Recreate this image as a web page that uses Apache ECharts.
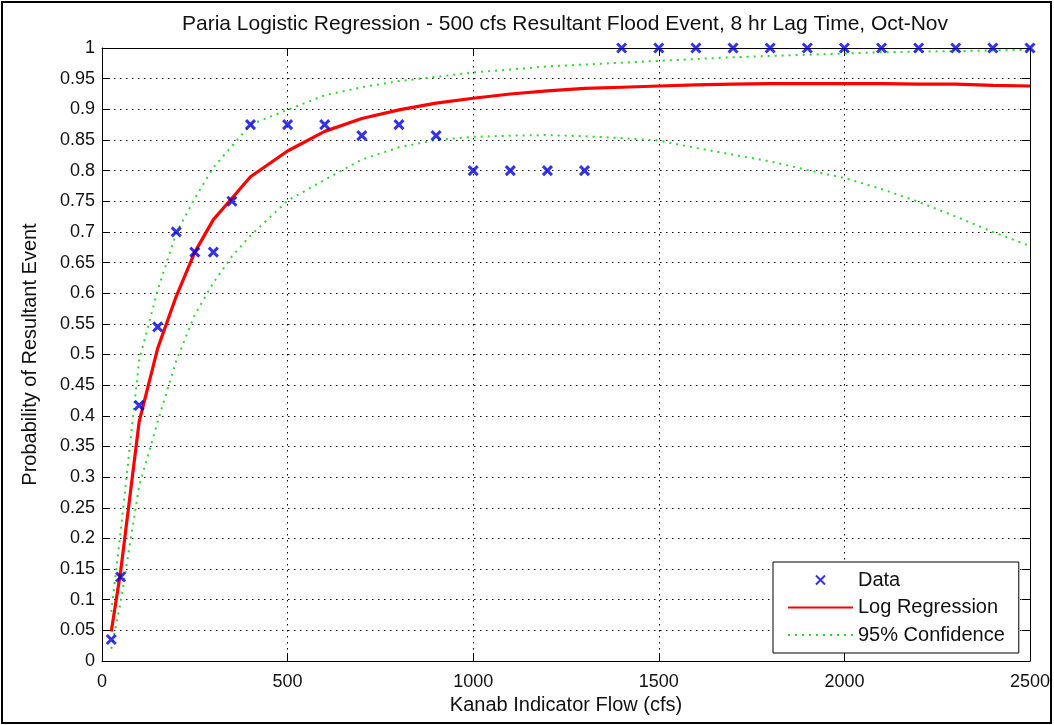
<!DOCTYPE html>
<html><head><meta charset="utf-8">
<script src="https://cdn.jsdelivr.net/npm/echarts@6/dist/echarts.min.js"></script>
<style>html,body{margin:0;padding:0;background:#fff}#c{width:1054px;height:725px}</style>
</head><body><div id="c"></div>
<script>
const titleText = 'Paria Logistic Regression - 500 cfs Resultant Flood Event, 8 hr Lag Time, Oct-Nov';
const xName = 'Kanab Indicator Flow (cfs)';
const yName = 'Probability of Resultant Event';
const xTicks = [0, 500, 1000, 1500, 2000, 2500];
const yTickStep = 0.05;

// Observed data
const dataX = [25, 50, 100, 150, 200, 250, 300, 350, 400, 500, 600, 700, 800, 900, 1000, 1100, 1200, 1300,
  1400, 1500, 1600, 1700, 1800, 1900, 2000, 2100, 2200, 2300, 2400, 2500];
const dataY = [0.035, 0.137, 0.417, 0.545, 0.70, 0.667, 0.667, 0.75, 0.875, 0.875, 0.875, 0.857, 0.875, 0.857,
  0.80, 0.80, 0.80, 0.80, 1, 1, 1, 1, 1, 1, 1, 1, 1, 1, 1, 1];

// Fitted curve and confidence bounds (evaluated at the data flows)
const curveX = [25, 50, 100, 150, 200, 250, 300, 350, 400, 500, 600, 700, 800, 900, 1000, 1100, 1200, 1300,
  1400, 1500, 1600, 1700, 1800, 1900, 2000, 2100, 2200, 2300, 2400, 2500];
const fitY = [0.048, 0.145, 0.39, 0.51, 0.595, 0.667, 0.72, 0.755, 0.79, 0.832, 0.864, 0.885, 0.899, 0.910,
  0.918, 0.925, 0.930, 0.934, 0.936, 0.938, 0.940, 0.941, 0.942, 0.942, 0.942, 0.942, 0.941, 0.941, 0.939, 0.938];
const upperY = [0.08, 0.21, 0.49, 0.605, 0.698, 0.755, 0.805, 0.84, 0.875, 0.899, 0.923, 0.936, 0.946, 0.953,
  0.960, 0.965, 0.970, 0.973, 0.976, 0.979, 0.982, 0.985, 0.987, 0.989, 0.991, 0.993, 0.994, 0.995, 0.996, 0.997];
const lowerY = [0.02, 0.095, 0.285, 0.39, 0.49, 0.565, 0.617, 0.66, 0.694, 0.751, 0.785, 0.818, 0.838, 0.85,
  0.855, 0.857, 0.858, 0.856, 0.853, 0.849, 0.837, 0.826, 0.815, 0.801, 0.788, 0.77, 0.749, 0.725, 0.70, 0.677];

const pairs = (xs, ys) => xs.map((x, i) => [x, ys[i]]);
const FONT = 'Liberation Sans, Arial, sans-serif';
const crossPath = 'path://M0,0L10,10M10,0L0,10';
const green = '#2fd62f';
const clear = 'rgba(0,0,0,0)';

const chart = echarts.init(document.getElementById('c'), null, {renderer: 'canvas'});

const baseX = {
  type: 'value', min: xTicks[0], max: xTicks[xTicks.length - 1], interval: xTicks[1] - xTicks[0],
  axisLine: {show: true, onZero: false, lineStyle: {color: '#000', width: 1}},
  axisTick: {show: true, inside: true, length: 8, lineStyle: {color: '#000'}}
};
const baseY = {
  type: 'value', min: 0, max: 1, interval: yTickStep,
  axisLine: {show: true, onZero: false, lineStyle: {color: '#000', width: 1}},
  axisTick: {show: true, inside: true, length: 8, lineStyle: {color: '#000'}}
};

chart.setOption({
  animation: false,
  backgroundColor: '#fff',
  grid: {left: 102, top: 48, right: 24, bottom: 64, containLabel: false},
  xAxis: [
    Object.assign({}, baseX, {
      position: 'bottom',
      name: xName, nameLocation: 'middle', nameGap: 33,
      nameTextStyle: {fontFamily: FONT, fontSize: 20, color: '#111'},
      axisLabel: {show: true, margin: 12, fontFamily: FONT, fontSize: 18, color: '#111',
        formatter: v => String(v)},
      splitLine: {show: true, lineStyle: {color: '#000', width: 1, type: [1.5, 4.5]}}
    }),
    Object.assign({}, baseX, {position: 'top', axisLabel: {show: false}, splitLine: {show: false}})
  ],
  yAxis: [
    Object.assign({}, baseY, {
      position: 'left',
      name: yName, nameLocation: 'middle', nameGap: 62, nameRotate: 90,
      nameTextStyle: {fontFamily: FONT, fontSize: 20, color: '#111'},
      axisLabel: {show: true, margin: 7, fontFamily: FONT, fontSize: 18, color: '#111',
        formatter: v => String(Number(v.toFixed(2)))},
      splitLine: {show: true, lineStyle: {color: '#000', width: 1, type: [1.5, 4.5]}}
    }),
    Object.assign({}, baseY, {position: 'right', axisLabel: {show: false}, splitLine: {show: false}})
  ],
  legend: {
    show: true, orient: 'vertical', left: 773, top: 562,
    data: ['Data', 'Log Regression', '95% Confidence'],
    backgroundColor: '#fff', borderColor: '#000', borderWidth: 1,
    padding: [8, 14, 8, 14],
    itemWidth: 65, itemHeight: 9, itemGap: 7.5,
    symbolKeepAspect: true,
    textStyle: {fontFamily: FONT, fontSize: 20, color: '#111', lineHeight: 20}
  },
  graphic: [
    {type: 'rect', shape: {x: 2, y: 2, width: 1049, height: 721}, style: {fill: 'none', stroke: '#000', lineWidth: 2}, silent: true},
    {type: 'text', x: 565, y: 24, style: {text: titleText, textAlign: 'center', textVerticalAlign: 'middle',
      font: '21px ' + FONT, fill: '#111'}}
  ],
  series: [
    {
      name: 'Log Regression', type: 'line', xAxisIndex: 0, yAxisIndex: 0,
      data: pairs(curveX, fitY), showSymbol: false, symbol: 'none',
      lineStyle: {color: '#ff0000', width: 3.2}, itemStyle: {color: clear, borderWidth: 0}, z: 3
    },
    {
      name: '95% Confidence', type: 'line', xAxisIndex: 0, yAxisIndex: 0,
      data: pairs(curveX, upperY), showSymbol: false, symbol: 'none',
      lineStyle: {color: green, width: 2, type: [2, 5]}, itemStyle: {color: clear, borderWidth: 0}, z: 2
    },
    {
      name: '95% Confidence', type: 'line', xAxisIndex: 0, yAxisIndex: 0,
      data: pairs(curveX, lowerY), showSymbol: false, symbol: 'none',
      lineStyle: {color: green, width: 2, type: [2, 5]}, itemStyle: {color: clear, borderWidth: 0}, z: 2
    },
    {
      name: 'Data', type: 'scatter', xAxisIndex: 0, yAxisIndex: 0,
      data: pairs(dataX, dataY), symbol: crossPath, symbolSize: 9,
      itemStyle: {color: clear, borderColor: '#0000dd', borderWidth: 3}, z: 4
    }
  ]
});
</script></body></html>
